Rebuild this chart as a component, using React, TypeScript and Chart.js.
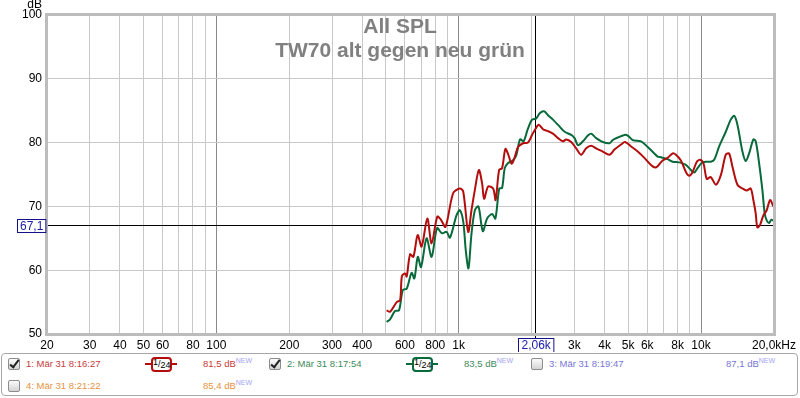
import React, { useEffect, useRef } from "react";
import { Chart, registerables } from "chart.js";

Chart.register(...registerables);

// ---------- data ----------
const TITLE_LINES = ["All SPL", "TW70 alt gegen neu grün"];
const Y_UNIT = "dB";

const X_TICK_VALUES = [20, 30, 40, 50, 60, 70, 80, 90, 100, 200, 300, 400, 500, 600, 700, 800, 900, 1000, 2000, 3000, 4000, 5000, 6000, 7000, 8000, 9000, 10000, 20000];
const X_TICK_LABELS = ["20", "30", "40", "50", "60", "", "80", "", "100", "200", "300", "400", "", "600", "", "800", "", "1k", "", "3k", "4k", "5k", "6k", "", "8k", "", "10k", "20,0kHz"];
const X_MAJOR = [100, 1000, 10000];
const X_MIN = 20;
const X_MAX = 20000;
const Y_MIN = 50;
const Y_MAX = 100;
const Y_STEP = 10;

const CURSOR_FREQ = 2060;
const CURSOR_FREQ_LABEL = "2,06k";
const CURSOR_DB = 67.1;
const CURSOR_DB_LABEL = "67,1";

const RED_FREQ = [504, 521, 555, 573, 583, 601, 610, 630, 650, 677, 703, 742, 773, 816, 845, 882, 949, 1011, 1044, 1094, 1129, 1166, 1211, 1249, 1273, 1322, 1387, 1420, 1468, 1510, 1558, 1599, 1652, 1692, 1757, 1843, 1932, 2007, 2070, 2138, 2227, 2335, 2448, 2568, 2692, 2778, 2912, 3053, 3202, 3357, 3520, 3691, 3932, 4190, 4393, 4677, 4858, 5142, 5479, 5839, 6216, 6454, 6622, 6944, 7278, 7633, 7876, 8258, 8659, 8943, 9227, 9609, 9924, 10240, 10560, 10970, 11510, 12070, 12650, 13060, 13480, 14130, 14820, 15430, 16030, 16440, 16810, 17080, 17520, 18080, 18660, 19270, 19880];
const RED_DB = [53.7, 53.5, 55.0, 55.3, 59.1, 59.5, 59.0, 62.5, 62.1, 65.5, 63.7, 68.1, 64.2, 68.4, 67.9, 66.8, 72.1, 72.8, 72.3, 66.0, 69.4, 72.6, 75.7, 73.6, 71.2, 73.1, 72.8, 71.0, 75.7, 76.0, 79.0, 78.2, 76.7, 77.4, 79.3, 79.9, 80.0, 81.2, 82.1, 82.8, 82.1, 81.8, 81.4, 80.7, 80.2, 80.5, 80.1, 79.1, 78.1, 79.1, 79.5, 79.1, 78.6, 78.1, 78.9, 79.7, 80.1, 79.4, 78.6, 77.6, 76.5, 76.1, 76.3, 77.2, 77.6, 78.3, 78.1, 77.2, 75.4, 74.8, 75.4, 77.0, 77.3, 76.7, 74.3, 74.6, 73.4, 74.9, 78.1, 78.3, 76.2, 73.4, 72.8, 72.5, 72.8, 71.0, 68.9, 66.7, 67.1, 68.6, 69.4, 71.0, 70.0];

const GREEN_FREQ = [504, 521, 546, 567, 588, 610, 639, 656, 678, 699, 737, 773, 814, 851, 891, 920, 979, 1011, 1044, 1069, 1097, 1129, 1166, 1206, 1243, 1261, 1310, 1374, 1417, 1470, 1510, 1549, 1599, 1661, 1724, 1791, 1852, 1923, 2007, 2090, 2159, 2248, 2335, 2448, 2610, 2735, 2912, 3007, 3103, 3254, 3411, 3520, 3691, 3932, 4190, 4323, 4532, 4831, 4984, 5226, 5654, 6024, 6417, 6622, 6832, 7278, 7633, 8134, 8659, 9080, 9376, 9674, 10050, 10460, 10970, 11330, 11880, 12650, 13260, 13700, 14130, 14820, 15290, 15790, 16440, 16810, 17360, 17910, 18310, 18660, 19090, 19500, 20000];
const GREEN_DB = [51.9, 52.3, 53.6, 53.7, 56.9, 57.1, 59.6, 58.7, 62.1, 60.5, 65.0, 62.1, 66.6, 65.8, 66.0, 65.1, 68.6, 69.4, 67.6, 63.2, 60.3, 65.7, 69.4, 70.0, 66.9, 66.1, 68.1, 68.8, 68.1, 72.8, 72.9, 76.0, 76.8, 77.1, 77.9, 80.5, 80.2, 82.0, 83.6, 83.8, 84.6, 84.9, 84.3, 83.6, 82.5, 81.7, 81.2, 80.7, 79.6, 80.2, 81.1, 81.4, 80.7, 80.1, 79.9, 80.4, 80.8, 81.2, 81.1, 80.4, 80.2, 79.3, 78.3, 77.8, 77.7, 77.4, 77.0, 76.9, 76.5, 75.7, 75.3, 76.0, 76.8, 77.0, 77.0, 77.3, 79.4, 81.7, 83.6, 84.2, 82.8, 78.6, 77.1, 78.3, 80.5, 80.2, 76.8, 72.6, 68.9, 67.8, 67.4, 67.9, 67.7];

const LEGEND_NAMES = ["1: Mär 31 8:16:27", "2: Mär 31 8:17:54", "3: Mär 31 8:19:47", "4: Mär 31 8:21:22"];
const LEGEND_LEVELS = ["81,5 dB", "83,5 dB", "87,1 dB", "85,4 dB"];
const LEGEND_CHECKED = [true, true, false, false];
const LEGEND_SMOOTHING = ["24", "24", "", ""];
const LEGEND_BADGE = "NEW";

// ---------- styles ----------
const FONT = '"Liberation Sans", Arial, sans-serif';
const RED_LINE = "#b30d0d";
const GREEN_LINE = "#08693a";
const LEGEND_TEXT_COLORS = ["#c83a3a", "#3e8a5c", "#7676d6", "#e8923c"];
const LEGEND_ICON_COLORS = ["#b30d0d", "#08693a", "", ""];
const LEGEND_SLOTS = [
  { x: 7, y: 363 },
  { x: 268, y: 363 },
  { x: 530, y: 363 },
  { x: 7, y: 385 },
];

const decorPlugin = {
  id: "decor",
  beforeDatasetsDraw(chart: any) {
    const { ctx, chartArea: a, scales } = chart;
    const x = scales.x;
    const y = scales.y;
    ctx.save();
    ctx.fillStyle = "#808080";
    ctx.font = `bold 21px ${FONT}`;
    ctx.textAlign = "center";
    ctx.textBaseline = "alphabetic";
    ctx.fillText(TITLE_LINES[0], chart.width / 2, 33);
    ctx.fillText(TITLE_LINES[1], chart.width / 2, 57);

    const cx = Math.round(x.getPixelForValue(CURSOR_FREQ)) + 0.5;
    const cy = Math.round(y.getPixelForValue(CURSOR_DB)) + 0.5;
    ctx.strokeStyle = "#000";
    ctx.lineWidth = 1;
    ctx.beginPath();
    ctx.moveTo(cx, a.top);
    ctx.lineTo(cx, a.bottom + 4);
    ctx.moveTo(a.left - 2, cy);
    ctx.lineTo(a.right, cy);
    ctx.stroke();
    ctx.restore();
  },
  afterDraw(chart: any) {
    const { ctx, chartArea: a, scales } = chart;
    const x = scales.x;
    const y = scales.y;
    ctx.save();
    // frame
    ctx.strokeStyle = "#bcbcbc";
    ctx.lineWidth = 3;
    ctx.strokeRect(a.left - 0.5, a.top - 0.5, a.right - a.left + 1, a.bottom - a.top + 1);

    // unit
    ctx.fillStyle = "#000";
    ctx.font = `12px ${FONT}`;
    ctx.textAlign = "right";
    ctx.textBaseline = "middle";
    ctx.fillText(Y_UNIT, a.left - 5, 5);

    // cursor boxes
    const cx = Math.round(x.getPixelForValue(CURSOR_FREQ)) + 0.5;
    const cy = Math.round(y.getPixelForValue(CURSOR_DB)) + 0.5;
    ctx.font = `12px ${FONT}`;
    const wx = ctx.measureText(CURSOR_FREQ_LABEL).width + 6;
    const bx = Math.round(cx - wx / 2) + 0.5;
    const by = Math.round(a.bottom + 4) + 0.5;
    ctx.fillStyle = "#fff";
    ctx.fillRect(bx, by, wx, 14);
    ctx.strokeStyle = "#12128c";
    ctx.lineWidth = 1;
    ctx.strokeRect(bx, by, wx, 14);
    ctx.fillStyle = "#1a1aa8";
    ctx.textAlign = "center";
    ctx.textBaseline = "middle";
    ctx.fillText(CURSOR_FREQ_LABEL, bx + wx / 2, by + 7.5);

    const wy = ctx.measureText(CURSOR_DB_LABEL).width + 5;
    const byx = Math.round(a.left - 2 - wy) + 0.5;
    const byy = Math.round(cy - 7) + 0.5;
    ctx.fillStyle = "#fff";
    ctx.fillRect(byx, byy, wy, 13);
    ctx.strokeRect(byx, byy, wy, 13);
    ctx.fillStyle = "#1a1aa8";
    ctx.fillText(CURSOR_DB_LABEL, byx + wy / 2, byy + 7);
    ctx.restore();
  },
};

function CheckBox({ checked, x, y }: { checked: boolean; x: number; y: number }) {
  return (
    <div
      style={{
        position: "absolute",
        left: x,
        top: y - 6,
        width: 10,
        height: 10,
        border: "1px solid #8c8c8c",
        borderRadius: 2,
        background: "linear-gradient(#fbfbfb, #d4d4d4)",
      }}
    >
      {checked && (
        <div
          style={{
            position: "absolute",
            left: 3,
            top: -1,
            width: 3,
            height: 8,
            borderRight: "2px solid #222",
            borderBottom: "2px solid #222",
            transform: "rotate(38deg)",
          }}
        />
      )}
    </div>
  );
}

function SmoothIcon({ x, y, color, denom }: { x: number; y: number; color: string; denom: string }) {
  return (
    <div style={{ position: "absolute", left: x, top: y - 7, width: 32, height: 14 }}>
      <div style={{ position: "absolute", left: 0, top: 6, width: 32, height: 2, background: color }} />
      <div
        style={{
          position: "absolute",
          left: 6,
          top: 0,
          width: 17,
          height: 11,
          border: `2px solid ${color}`,
          borderRadius: 4,
          background: "#fff",
          fontSize: 9,
          lineHeight: "11px",
          color: "#000",
          textAlign: "center",
          whiteSpace: "nowrap",
          fontFamily: FONT,
        }}
      >
        <span style={{ position: "relative", top: -2 }}>1</span>/<span style={{ position: "relative", top: 1 }}>{denom}</span>
      </div>
    </div>
  );
}

function Legend() {
  return (
    <div
      style={{
        position: "absolute",
        left: 1,
        top: 353,
        width: 797,
        height: 43,
        boxSizing: "border-box",
        border: "1px solid #a8a8a8",
        borderRadius: 4,
      }}
    >
      {LEGEND_NAMES.map((name, i) => {
        const s = LEGEND_SLOTS[i];
        const ox = -1;
        const oy = -353;
        return (
          <div key={i} style={{ position: "absolute", left: ox, top: oy }}>
            <CheckBox checked={LEGEND_CHECKED[i]} x={s.x} y={s.y} />
            <span
              style={{
                position: "absolute",
                left: s.x + 18,
                top: s.y - 6,
                fontSize: 9.5,
                lineHeight: "12px",
                whiteSpace: "nowrap",
                color: LEGEND_TEXT_COLORS[i],
              }}
            >
              {name}
            </span>
            {LEGEND_SMOOTHING[i] && <SmoothIcon x={s.x + 137} y={s.y} color={LEGEND_ICON_COLORS[i]} denom={LEGEND_SMOOTHING[i]} />}
            <span
              style={{
                position: "absolute",
                left: s.x + 195,
                top: s.y - 6,
                fontSize: 9.5,
                lineHeight: "12px",
                whiteSpace: "nowrap",
                color: LEGEND_TEXT_COLORS[i],
              }}
            >
              {LEGEND_LEVELS[i]}
              <span style={{ fontSize: 7, color: "#a4a4f2", position: "relative", top: -4 }}>{LEGEND_BADGE}</span>
            </span>
          </div>
        );
      })}
    </div>
  );
}

export default function App() {
  const ref = useRef<HTMLCanvasElement>(null);
  useEffect(() => {
    const canvas = ref.current;
    if (!canvas) return;
    const chart = new Chart(canvas, {
      type: "line",
      data: {
        datasets: [
          {
            label: LEGEND_NAMES[0],
            data: RED_FREQ.map((f, i) => ({ x: f, y: RED_DB[i] })),
            borderColor: RED_LINE,
            borderWidth: 2,
            pointRadius: 0,
            tension: 0.3,
            fill: false,
          },
          {
            label: LEGEND_NAMES[1],
            data: GREEN_FREQ.map((f, i) => ({ x: f, y: GREEN_DB[i] })),
            borderColor: GREEN_LINE,
            borderWidth: 2,
            pointRadius: 0,
            tension: 0.3,
            fill: false,
          },
        ],
      },
      options: {
        responsive: false,
        animation: false,
        devicePixelRatio: 1,
        events: [],
        layout: { padding: { top: 15, right: 23, left: 0, bottom: 0 } },
        plugins: {
          legend: { display: false },
          tooltip: { enabled: false },
          title: { display: false },
        },
        scales: {
          x: {
            type: "logarithmic",
            min: X_MIN,
            max: X_MAX,
            afterBuildTicks: (s: any) => {
              s.ticks = X_TICK_VALUES.map((v) => ({ value: v }));
            },
            afterFit: (s: any) => {
              s.height = 18;
            },
            border: { display: false },
            grid: {
              drawTicks: false,
              color: (c: any) => (c.tick && X_MAJOR.includes(c.tick.value) ? "#8a8a8a" : "#c8c8c8"),
            },
            ticks: {
              autoSkip: false,
              maxRotation: 0,
              minRotation: 0,
              padding: 4,
              color: "#000",
              font: { family: FONT, size: 12 },
              callback: (v: any) => {
                const i = X_TICK_VALUES.indexOf(Number(v));
                return i >= 0 ? X_TICK_LABELS[i] : "";
              },
            },
          },
          y: {
            type: "linear",
            min: Y_MIN,
            max: Y_MAX,
            afterFit: (s: any) => {
              s.width = 47;
            },
            border: { display: false },
            grid: { drawTicks: false, color: "#c8c8c8" },
            ticks: {
              stepSize: Y_STEP,
              padding: 5,
              color: "#000",
              font: { family: FONT, size: 12 },
            },
          },
        },
      } as any,
      plugins: [decorPlugin],
    });
    return () => chart.destroy();
  }, []);

  return (
    <div
      style={{
        position: "fixed",
        left: 0,
        top: 0,
        width: 800,
        height: 398,
        background: "#fff",
        fontFamily: FONT,
        overflow: "hidden",
      }}
    >
      <canvas ref={ref} width={800} height={352} style={{ position: "absolute", left: 0, top: 0, width: 800, height: 352 }} />
      <Legend />
    </div>
  );
}
